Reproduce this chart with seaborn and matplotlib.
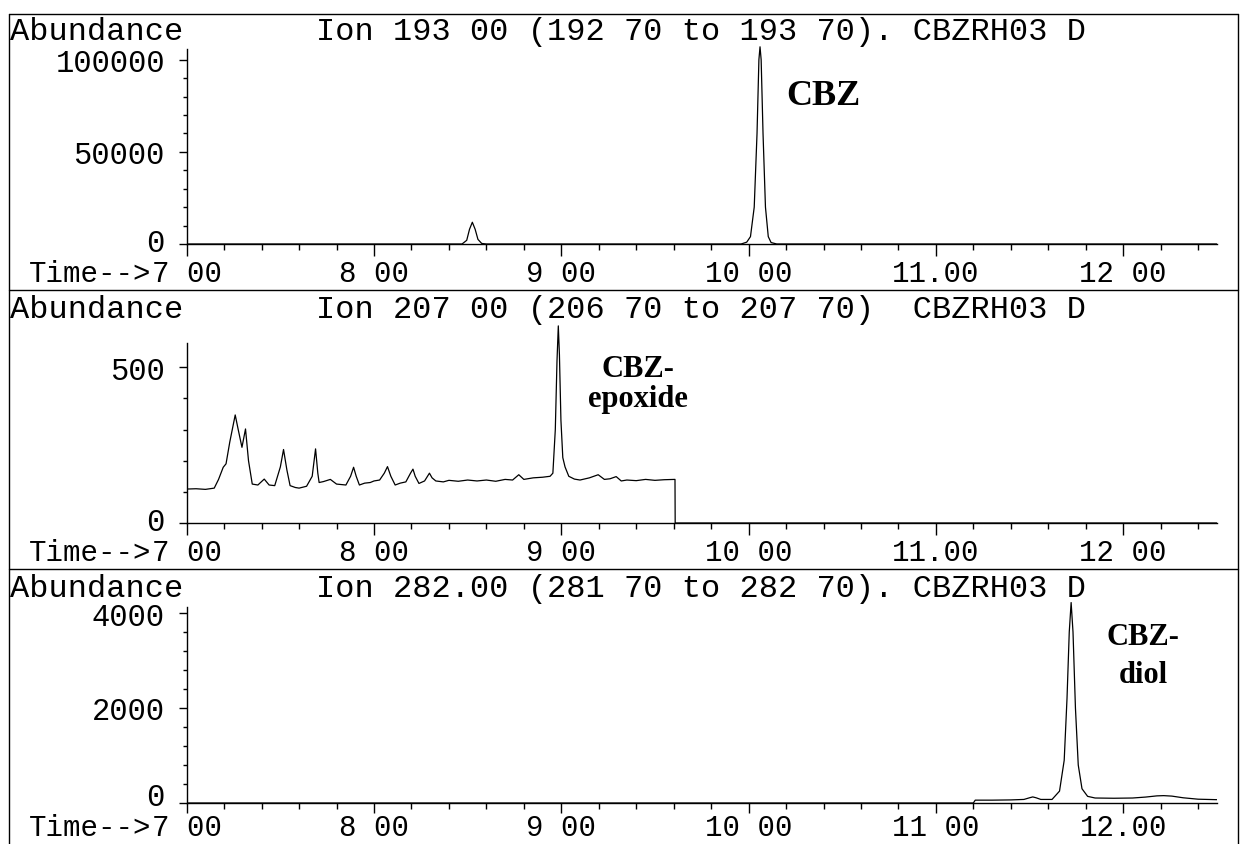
import matplotlib
matplotlib.use("Agg")
import matplotlib.pyplot as plt
import seaborn as sns
import pandas as pd
from matplotlib.ticker import FixedLocator
from matplotlib.lines import Line2D
from matplotlib.transforms import Affine2D

# ---------------- data ----------------
x_tick_values = [7, 8, 9, 10, 11, 12]
x_labels_193 = ["7 00", "8 00", "9 00", "10 00", "11.00", "12 00"]
x_labels_207 = ["7 00", "8 00", "9 00", "10 00", "11.00", "12 00"]
x_labels_282 = ["7 00", "8 00", "9 00", "10 00", "11 00", "12.00"]

y_ticks_193 = [0, 50000, 100000]
y_ticks_207 = [0, 500]
y_ticks_282 = [0, 2000, 4000]

titles = ["Ion 193 00 (192 70 to 193 70). CBZRH03 D",
          "Ion 207 00 (206 70 to 207 70)  CBZRH03 D",
          "Ion 282.00 (281 70 to 282 70). CBZRH03 D"]

# Ion 193 trace (CBZ)
time_193 = [7.00, 8.47, 8.495, 8.51, 8.525, 8.54, 8.555, 8.575, 8.60,
            9.96, 9.99, 10.01, 10.03, 10.045, 10.055, 10.061, 10.067,
            10.077, 10.09, 10.105, 10.12, 10.15, 12.50]
abund_193 = [0, 0, 2000, 8000, 11800, 8000, 2500, 300, 0,
             0, 1000, 4000, 20000, 60000, 100000, 107000, 100000,
             60000, 20000, 4000, 800, 0, 0]

# Ion 207 trace (CBZ-epoxide)
time_207 = [7.00, 7.05, 7.10, 7.147, 7.17, 7.195, 7.21, 7.23, 7.259, 7.275,
            7.295, 7.314, 7.33, 7.35, 7.38, 7.414, 7.44, 7.47, 7.50, 7.517,
            7.535, 7.552, 7.58, 7.60, 7.64, 7.67, 7.688, 7.70, 7.707, 7.73,
            7.767, 7.80, 7.85, 7.875, 7.891, 7.905, 7.922, 7.95, 7.98, 8.00,
            8.03, 8.055, 8.072, 8.09, 8.113, 8.14, 8.17, 8.195, 8.208, 8.22,
            8.24, 8.27, 8.296, 8.31, 8.33, 8.37, 8.40, 8.45, 8.50, 8.55,
            8.60, 8.65, 8.70, 8.74, 8.773, 8.80, 8.85, 8.90, 8.94, 8.955,
            8.968, 8.977, 8.984, 8.99, 8.998, 9.008, 9.02, 9.04, 9.07, 9.10,
            9.15, 9.197, 9.23, 9.26, 9.293, 9.32, 9.35, 9.40, 9.45, 9.50,
            9.55, 9.607, 9.608, 12.50]
abund_207 = [109, 110, 108, 112, 140, 179, 190, 260, 347, 300,
             243, 302, 200, 125, 122, 141, 122, 120, 180, 236,
             170, 120, 114, 112, 118, 150, 238, 160, 130, 133,
             140, 125, 122, 150, 179, 150, 122, 128, 130, 135,
             138, 160, 181, 150, 122, 128, 132, 160, 173, 150,
             127, 135, 160, 145, 135, 132, 137, 134, 138, 135,
             138, 134, 140, 138, 155, 140, 145, 147, 150, 160,
             300, 520, 633, 540, 330, 210, 180, 150, 141, 138,
             145, 155, 140, 142, 149, 135, 138, 136, 140, 137,
             139, 140, 0, 0]

# Ion 282 trace (CBZ-diol)
time_282 = [7.00, 11.20, 11.21, 11.30, 11.40, 11.47, 11.50, 11.517, 11.535,
            11.56, 11.62, 11.66, 11.685, 11.70, 11.712, 11.722, 11.732,
            11.745, 11.76, 11.78, 11.81, 11.85, 11.95, 12.05, 12.12, 12.18,
            12.216, 12.26, 12.32, 12.40, 12.50]
abund_282 = [0, 0, 60, 60, 65, 75, 110, 128, 110,
             75, 75, 250, 900, 2200, 3600, 4220, 3600,
             2000, 800, 300, 140, 105, 100, 105, 125, 150,
             155, 145, 110, 80, 70]

# ---------------- styling ----------------
sns.set_theme(style="white")
plt.rcParams['font.family'] = ['Liberation Mono', 'DejaVu Sans Mono']
plt.rcParams.update({
    'text.color': 'black', 'axes.edgecolor': 'black',
    'xtick.color': 'black', 'ytick.color': 'black',
    'axes.linewidth': 1.0,
})

W, H = 1242, 845
fig = plt.figure(figsize=(W / 100, H / 100), dpi=100)
fig.patch.set_facecolor('white')

X0_PX = 186.7          # pixel x of 7.00
PX_PER_MIN = 187.3
FS_T = 23   # headers
FS_Y = 22   # y tick labels
FS_X = 21   # x tick labels

panels = [
    dict(t=time_193, a=abund_193, zero=245, scale=1.843e-3, ytop=108000,
         spine_top=106000, yticks=y_ticks_193, yminor=list(range(10000, 100000, 10000)),
         xlabels=x_labels_193, title=titles[0], head_base=40,
         xt_len=8.6, xt_pad=2.5,
         lab=[(10.40, 76000, "CBZ", 26)]),
    dict(t=time_207, a=abund_207, zero=524, scale=0.3114, ytop=650,
         spine_top=577, yticks=y_ticks_207, yminor=[100, 200, 300, 400],
         xlabels=x_labels_207, title=titles[1], head_base=318,
         xt_len=8.6, xt_pad=2.5,
         lab=[(9.41, 472, "CBZ-", 22), (9.41, 376, "epoxide", 22)]),
    dict(t=time_282, a=abund_282, zero=804, scale=0.0475, ytop=4300,
         spine_top=4120, yticks=y_ticks_282,
         yminor=[400, 800, 1200, 1600, 2400, 2800, 3200, 3600],
         xlabels=x_labels_282, title=titles[2], head_base=597,
         xt_len=7.0, xt_pad=0.0,
         lab=[(12.108, 3347, "CBZ-", 22), (12.108, 2547, "diol", 22)]),
]

xmin, xmax = 7.0, 12.5
minor_x = [7 + 0.2 * i for i in range(0, 28)]
axes_list = []
time_notes = []

for p in panels:
    h_px = p['ytop'] * p['scale']
    ax = fig.add_axes([X0_PX / W, 1 - p['zero'] / H,
                       (xmax - xmin) * PX_PER_MIN / W, h_px / H])
    ax.set_facecolor('none')
    df = pd.DataFrame({'time': p['t'], 'abundance': p['a']})
    sns.lineplot(data=df, x='time', y='abundance', ax=ax, color='black',
                 lw=0.9, estimator=None, sort=False)
    ax.set_xlim(xmin, xmax)
    ax.set_ylim(0, p['ytop'])
    ax.set_xlabel('')
    ax.set_ylabel('')
    for s in ['top', 'right']:
        ax.spines[s].set_visible(False)
    ax.spines['left'].set_bounds(0, p['spine_top'])
    ax.spines['bottom'].set_bounds(xmin, xmax)

    ax.set_xticks(x_tick_values)
    ax.set_xticklabels(p['xlabels'])
    ax.xaxis.set_minor_locator(FixedLocator(minor_x))
    ax.set_yticks(p['yticks'])
    ax.set_yticklabels([str(v) for v in p['yticks']], va='center_baseline')
    ax.yaxis.set_minor_locator(FixedLocator(p['yminor']))

    ax.tick_params(axis='x', which='major', direction='out', length=p['xt_len'],
                   width=1, pad=p['xt_pad'], labelsize=FS_X, bottom=True)
    ax.tick_params(axis='x', which='minor', direction='out', length=4.3,
                   width=1, bottom=True)
    ax.tick_params(axis='y', which='major', direction='out', length=5.8,
                   width=1, pad=10, labelsize=FS_Y, left=True)
    ax.tick_params(axis='y', which='minor', direction='out', length=3,
                   width=1, left=True)

    note = ax.annotate("Time-->", xy=(7.0, 0), xycoords=('data', 'axes fraction'),
                       xytext=(-0.6 * FS_X * 2, -(p['xt_len'] + p['xt_pad'])),
                       textcoords='offset points',
                       ha='right', va='top', fontsize=FS_X, annotation_clip=False)
    time_notes.append(note)

    fig.text(10 / W, 1 - p['head_base'] / H, "Abundance", fontsize=FS_T,
             ha='left', va='baseline')
    fig.text(316 / W, 1 - p['head_base'] / H, p['title'], fontsize=FS_T,
             ha='left', va='baseline')

    for (lx, ly, txt, fs) in p['lab']:
        ax.text(lx, ly, txt, family='Liberation Serif', weight='bold',
                fontsize=fs, ha='center', va='baseline')
    axes_list.append(ax)

# panel frames
def fline(x0, y0, x1, y1):
    fig.add_artist(Line2D([x0 / W, x1 / W], [1 - y0 / H, 1 - y1 / H],
                          transform=fig.transFigure, color='black', lw=1))

for y in [15, 291, 570]:
    fline(9, y, 1238, y)
fline(9, 15, 9, 845)
fline(1238, 15, 1238, 845)

# keep the "0" y label clear of the time-axis labels beneath it
fig.canvas.draw()
renderer = fig.canvas.get_renderer()
for ax, note in zip(axes_list, time_notes):
    zero_lab = ax.yaxis.get_major_ticks()[0].label1
    zb = zero_lab.get_window_extent(renderer)
    others = [note.get_window_extent(renderer),
              ax.xaxis.get_major_ticks()[0].label1.get_window_extent(renderer)]
    top_other = max(o.y1 for o in others if o.x1 > zb.x0 and o.x0 < zb.x1) \
        if any(o.x1 > zb.x0 and o.x0 < zb.x1 for o in others) else None
    if top_other is not None and zb.y0 < top_other + 1:
        dy = top_other + 1 - zb.y0
        zero_lab.set_transform(zero_lab.get_transform() + Affine2D().translate(0, dy))

fig.savefig("out.png", dpi=100, facecolor='white')
